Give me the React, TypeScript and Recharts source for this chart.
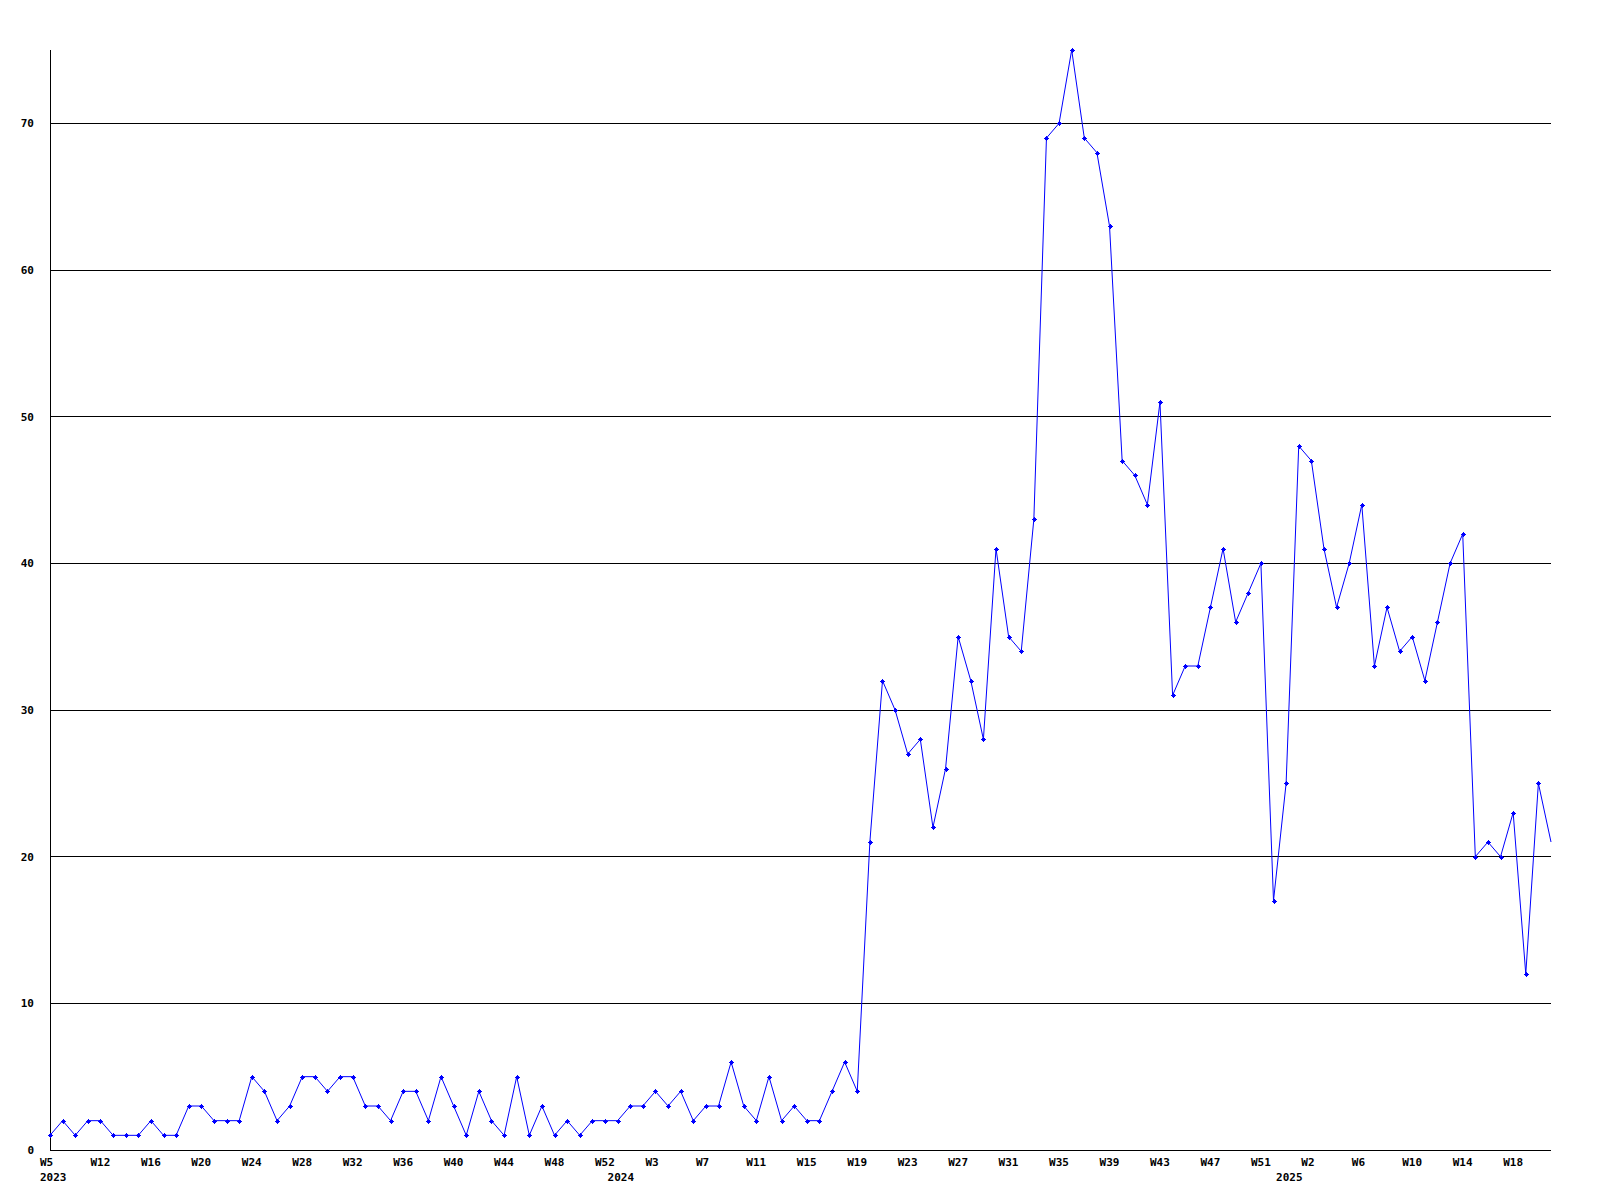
import { CartesianGrid, Line, LineChart, XAxis, YAxis } from "recharts";

// page has an 8px default body margin; the chart is meant to sit flush at 0,0
if (typeof document !== "undefined") document.body.style.margin = "0";

// weekly counts, first point = 2023 (labelled W5), last point clipped at the right edge
const counts = [
  1, 2, 1, 2, 2, 1, 1, 1, 2, 1, 1, 3, 3, 2, 2, 2, 5, 4, 2, 3, 5, 5, 4, 5, 5, 3, 3, 2,
  4, 4, 2, 5, 3, 1, 4, 2, 1, 5, 1, 3, 1, 2, 1, 2, 2, 2, 3, 3, 4, 3, 4, 2, 3, 3, 6, 3, 2, 5, 2, 3, 2, 2, 4, 6, 4,
  21, 32, 30, 27, 28, 22, 26, 35, 32, 28, 41, 35, 34, 43, 69, 70, 75, 69, 68, 63, 47, 46, 44, 51, 31, 33, 33,
  37, 41, 36, 38, 40, 17, 25, 48, 47, 41, 37, 40, 44, 33, 37, 34, 35, 32, 36, 40, 42, 20, 21, 20, 23, 12, 25, 21,
];

// week labels every 4th point
const weekTickIdx = [
  0, 4, 8, 12, 16, 20, 24, 28, 32, 36, 40, 44, 48, 52, 56, 60, 64, 68, 72, 76, 80, 84, 88, 92, 96, 100, 104,
  108, 112, 116,
];
const weekTickLabels = [
  "W5", "W12", "W16", "W20", "W24", "W28", "W32", "W36", "W40", "W44", "W48", "W52", "W3", "W7", "W11",
  "W15", "W19", "W23", "W27", "W31", "W35", "W39", "W43", "W47", "W51", "W2", "W6", "W10", "W14", "W18",
];

// year labels sit under the first week of each year
const yearIdx = [0, 45, 98];
const yearLabels = ["2023", "2024", "2025"];

const yTicks = [0, 10, 20, 30, 40, 50, 60, 70];
const gridValues = [10, 20, 30, 40, 50, 60, 70];

const FONT = "'DejaVu Sans Mono', monospace";
const BLUE = "#0000ff";

const data = counts.map((v, i) => ({ i, v }));
const lastIdx = counts.length - 1;

function WeekTick(props: any) {
  const { x, payload } = props;
  const i = payload.value as number;
  const w = weekTickIdx.indexOf(i);
  const yr = yearIdx.indexOf(i);
  return (
    <g>
      {w >= 0 && (
        <text x={x - 10} y={1166} fontSize={11} fontWeight="bold" fontFamily={FONT} fill="#000">
          {weekTickLabels[w]}
        </text>
      )}
      {yr >= 0 && (
        <text x={x - 10} y={1181} fontSize={11} fontWeight="bold" fontFamily={FONT} fill="#000">
          {yearLabels[yr]}
        </text>
      )}
    </g>
  );
}

function ValueTick(props: any) {
  const { y, payload } = props;
  return (
    <text x={34} y={y + 4} textAnchor="end" fontSize={11} fontWeight="bold" fontFamily={FONT} fill="#000">
      {payload.value}
    </text>
  );
}

// small "+" marker like the original GD plot
function PlusDot(props: any) {
  const { cx, cy, index } = props;
  if (index === lastIdx || cx == null || cy == null) return <g key={`d${index}`} />;
  const px = Math.round(cx);
  const py = Math.round(cy);
  return (
    <g key={`d${index}`} fill={BLUE} shapeRendering="crispEdges">
      <rect x={px - 2} y={py} width={5} height={1} />
      <rect x={px} y={py - 2} width={1} height={5} />
      <rect x={px - 1} y={py - 1} width={3} height={3} />
    </g>
  );
}

export default function App() {
  return (
    <div style={{ width: 1600, height: 1200, background: "#fff" }}>
      <LineChart width={1600} height={1200} data={data} margin={{ top: 50, right: 49, bottom: 0, left: 0 }}>
        <CartesianGrid
          vertical={false}
          horizontalValues={gridValues}
          stroke="#000"
          shapeRendering="crispEdges"
        />
        <XAxis
          dataKey="i"
          type="number"
          domain={[0, lastIdx]}
          ticks={[...weekTickIdx, ...yearIdx.filter((y) => !weekTickIdx.includes(y))].sort((a, b) => a - b)}
          interval={0}
          height={50}
          tickLine={false}
          axisLine={{ stroke: "#000", shapeRendering: "crispEdges" }}
          tick={<WeekTick />}
        />
        <YAxis
          type="number"
          domain={[0, 75]}
          ticks={yTicks}
          interval={0}
          width={50}
          tickLine={false}
          axisLine={{ stroke: "#000", shapeRendering: "crispEdges" }}
          tick={<ValueTick />}
        />
        <Line
          type="linear"
          dataKey="v"
          stroke={BLUE}
          strokeWidth={1}
          dot={<PlusDot />}
          activeDot={false}
          isAnimationActive={false}
        />
      </LineChart>
    </div>
  );
}
